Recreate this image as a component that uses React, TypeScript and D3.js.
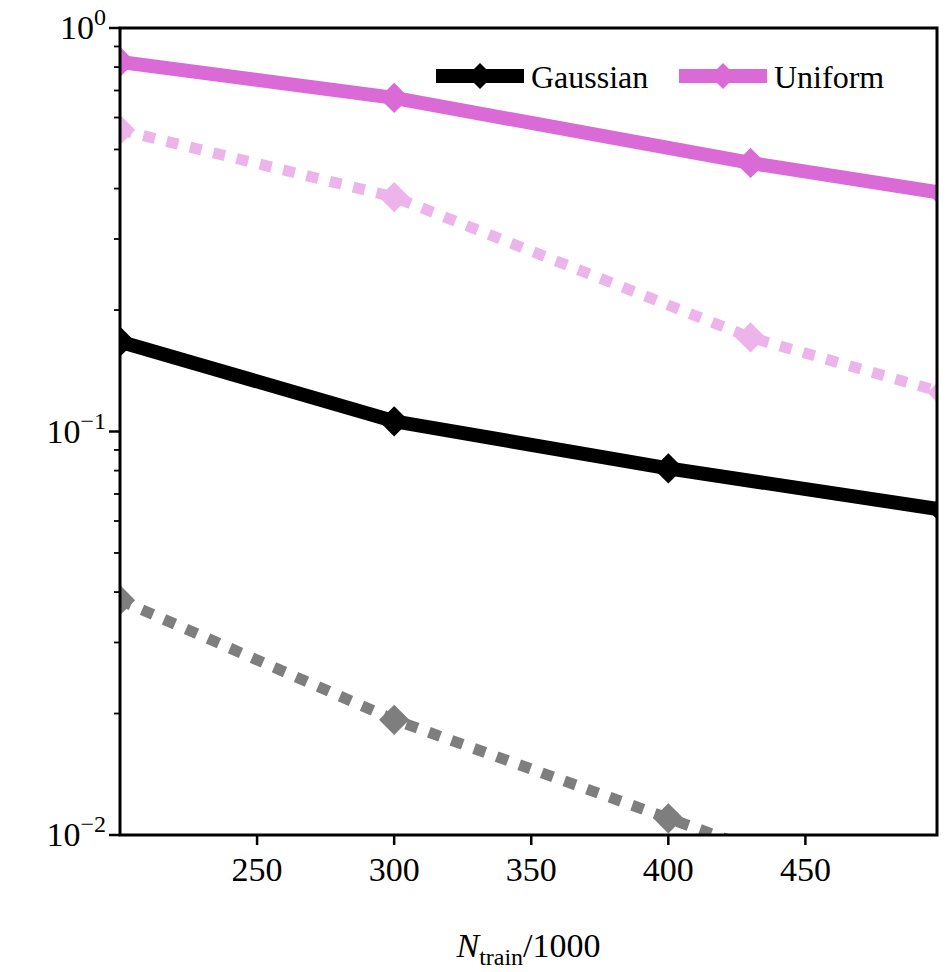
import * as d3 from 'd3';

const xTicks = [250, 300, 350, 400, 450];
const gaussX = [200, 300, 400, 500];
const gaussSolid = [0.167, 0.106, 0.081, 0.064];
const gaussDashed = [0.0382, 0.0193, 0.011, 0.0063];
const unifX = [200, 300, 430, 500];
const unifSolid = [0.824, 0.671, 0.463, 0.39];
const unifDashed = [0.559, 0.381, 0.171, 0.125];

const W = 951, H = 972;
const left = 120, right = 937, top = 28, bottom = 835;
const PINK = '#da6bd6';
const font = '"Liberation Serif", "DejaVu Serif", serif';

const x = d3.scaleLinear().domain([200, 498]).range([left, right]);
const y = d3.scaleLog().domain([0.01, 1]).range([bottom, top]);

function diamond(cx: number, cy: number, r: number) {
  return `M${cx},${cy - r}L${cx + r},${cy}L${cx},${cy + r}L${cx - r},${cy}Z`;
}

function Series({ xs, ys, color, dashed }: { xs: number[]; ys: number[]; color: string; dashed?: boolean }) {
  const line = d3.line<number>().x((_, i) => x(xs[i])).y(d => y(d));
  return (
    <g opacity={dashed ? 0.5 : 1} clipPath="url(#clip)">
      <path d={line(ys) ?? ''} fill="none" stroke={color} strokeWidth={dashed ? 11 : 14}
        strokeDasharray={dashed ? '12 12' : undefined} />
      {ys.map((v, i) => (
        <path key={i} d={diamond(x(xs[i]), y(v), 13)} fill={color}
          stroke={dashed ? (color === PINK ? PINK : '#000') : color} strokeWidth={3} />
      ))}
    </g>
  );
}

export default function App() {
  const minor: number[] = [];
  for (const dec of [0.01, 0.1]) for (let k = 2; k <= 9; k++) minor.push(dec * k);
  return (
    <svg width={W} height={H} style={{ position: 'absolute', left: 0, top: 0, background: '#fff' }} fontFamily={font}>
      <defs>
        <clipPath id="clip"><rect x={left} y={top} width={right - left} height={bottom - top} /></clipPath>
      </defs>
      <Series xs={unifX} ys={unifDashed} color={PINK} dashed />
      <Series xs={gaussX} ys={gaussDashed} color="#000" dashed />
      <Series xs={gaussX} ys={gaussSolid} color="#000" />
      <Series xs={unifX} ys={unifSolid} color={PINK} />
      <rect x={left} y={top} width={right - left} height={bottom - top} fill="none" stroke="#000" strokeWidth={3} />
      {xTicks.map(t => (
        <g key={t}>
          <line x1={x(t)} x2={x(t)} y1={bottom} y2={bottom + 10} stroke="#000" strokeWidth={2.5} />
          <text x={x(t)} y={bottom + 46} fontSize={34} textAnchor="middle">{t}</text>
        </g>
      ))}
      {[0, -1, -2].map(e => (
        <g key={e}>
          <line x1={left - 11} x2={left} y1={y(10 ** e)} y2={y(10 ** e)} stroke="#000" strokeWidth={2.5} />
          <text x={left - 14} y={y(10 ** e) + 11} fontSize={34} textAnchor="end">
            10<tspan dy={-14} fontSize={24}>{e === 0 ? '0' : `\u2212${-e}`}</tspan>
          </text>
        </g>
      ))}
      {minor.map(m => (
        <line key={m} x1={left - 6} x2={left} y1={y(m)} y2={y(m)} stroke="#000" strokeWidth={1.8} />
      ))}
      <text x={(left + right) / 2} y={957} fontSize={34} textAnchor="middle">
        <tspan fontStyle="italic">N</tspan><tspan dy={8} fontSize={24}>train</tspan><tspan dy={-8}>/1000</tspan>
      </text>
      <g>
        <line x1={436} x2={524} y1={76} y2={76} stroke="#000" strokeWidth={14} />
        <path d={diamond(480, 76, 13)} fill="#000" />
        <text x={531} y={88} fontSize={32}>Gaussian</text>
        <line x1={679} x2={767} y1={76} y2={76} stroke={PINK} strokeWidth={14} />
        <path d={diamond(723, 76, 13)} fill={PINK} />
        <text x={774} y={88} fontSize={32}>Uniform</text>
      </g>
    </svg>
  );
}
